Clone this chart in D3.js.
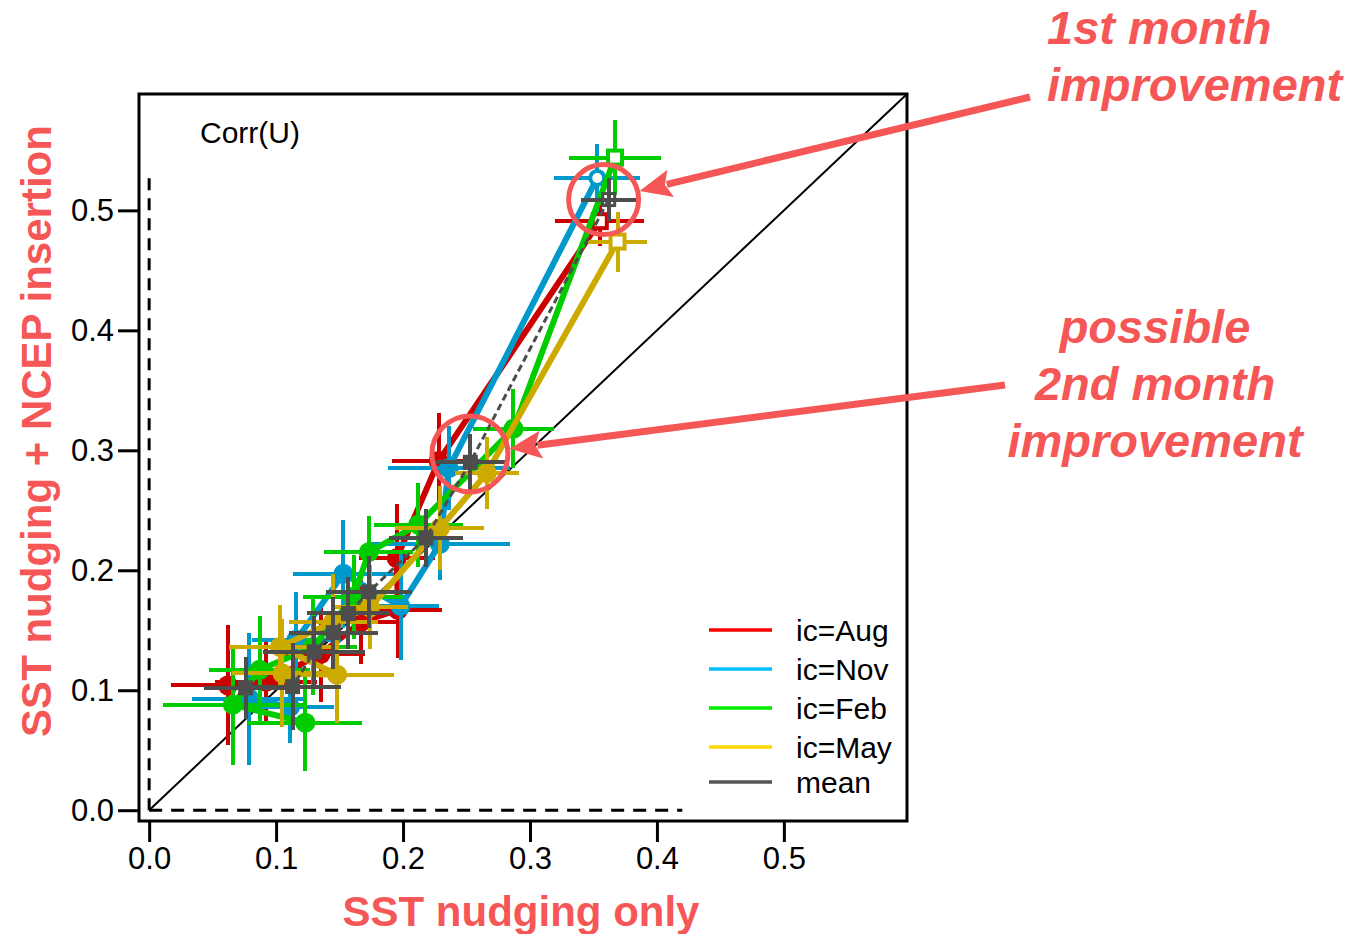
<!DOCTYPE html>
<html>
<head>
<meta charset="utf-8">
<script src="https://cdn.jsdelivr.net/npm/d3@7"></script>
<style>
  body { margin: 0; background: #fff; }
  svg { display: block; }
</style>
</head>
<body>
<svg id="chart" width="1372" height="934"></svg>
<script>
// ---- data: anomaly correlation of U, one point per lead month ----
const seriesNames = ["ic=Aug", "ic=Nov", "ic=Feb", "ic=May", "mean"];

// x: SST nudging only, y: SST nudging + NCEP insertion
const augX    = [0.355, 0.228, 0.195, 0.196, 0.167, 0.135, 0.092, 0.062];
const augY    = [0.491, 0.291, 0.210, 0.167, 0.157, 0.130, 0.107, 0.104];
const augXErr = [0.035, 0.037, 0.030, 0.035, 0.030, 0.035, 0.040, 0.045];
const augYErr = [0.021, 0.040, 0.045, 0.040, 0.035, 0.040, 0.035, 0.050];

const novX    = [0.353, 0.236, 0.229, 0.198, 0.153, 0.116, 0.111, 0.079];
const novY    = [0.527, 0.285, 0.222, 0.170, 0.197, 0.142, 0.086, 0.093];
const novXErr = [0.034, 0.048, 0.055, 0.030, 0.040, 0.035, 0.035, 0.045];
const novYErr = [0.028, 0.035, 0.030, 0.045, 0.045, 0.040, 0.030, 0.055];

const febX    = [0.367, 0.287, 0.212, 0.173, 0.161, 0.129, 0.087, 0.066, 0.123];
const febY    = [0.544, 0.318, 0.238, 0.215, 0.178, 0.136, 0.117, 0.088, 0.073];
const febXErr = [0.036, 0.032, 0.035, 0.035, 0.040, 0.035, 0.040, 0.055, 0.045];
const febYErr = [0.031, 0.033, 0.035, 0.030, 0.035, 0.040, 0.045, 0.050, 0.040];

const mayX    = [0.369, 0.266, 0.229, 0.174, 0.145, 0.103, 0.148, 0.105];
const mayY    = [0.474, 0.281, 0.235, 0.169, 0.157, 0.136, 0.113, 0.114];
const mayXErr = [0.023, 0.025, 0.035, 0.030, 0.035, 0.040, 0.045, 0.040];
const mayYErr = [0.025, 0.030, 0.035, 0.035, 0.040, 0.035, 0.040, 0.045];

const meanX    = [0.362, 0.253, 0.218, 0.173, 0.157, 0.145, 0.130, 0.113, 0.076];
const meanY    = [0.509, 0.290, 0.227, 0.182, 0.164, 0.148, 0.132, 0.103, 0.102];
const meanXErr = [0.022, 0.028, 0.029, 0.034, 0.033, 0.035, 0.040, 0.038, 0.033];
const meanYErr = [0.018, 0.024, 0.024, 0.030, 0.030, 0.030, 0.030, 0.036, 0.026];

const xTicks = [0.0, 0.1, 0.2, 0.3, 0.4, 0.5];
const yTicks = [0.0, 0.1, 0.2, 0.3, 0.4, 0.5];
const xDomain = [-0.008, 0.597];
const yDomain = [-0.009, 0.597];
const zeroLineXEnd = 0.42;   // extent of the dashed y=0 guide
const zeroLineYEnd = 0.533;  // extent of the dashed x=0 guide

// ---- styles ----
const markColors   = ["#cc0000", "#0099cc", "#00cc00", "#ccaa00", "#4d4d4d"];
const legendColors = ["#ff0000", "#00bfff", "#00ee00", "#ffd700", "#555555"];
const accent = "#f55656";
const tickFont = "'Liberation Sans', Arial, sans-serif";

const series = [
  { x: augX,  y: augY,  xe: augXErr,  ye: augYErr },
  { x: novX,  y: novY,  xe: novXErr,  ye: novYErr },
  { x: febX,  y: febY,  xe: febXErr,  ye: febYErr },
  { x: mayX,  y: mayY,  xe: mayXErr,  ye: mayYErr },
  { x: meanX, y: meanY, xe: meanXErr, ye: meanYErr }
].map((s, i) => ({
  name: seriesNames[i],
  color: markColors[i],
  legendColor: legendColors[i],
  isMean: i === 4,
  points: s.x.map((v, k) => ({ x: v, y: s.y[k], xe: s.xe[k], ye: s.ye[k], lead: k + 1 }))
}));

// ---- layout ----
const frame = { left: 139, right: 907, top: 94, bottom: 821 };
const x = d3.scaleLinear().domain(xDomain).range([frame.left, frame.right]);
const y = d3.scaleLinear().domain(yDomain).range([frame.bottom, frame.top]);

const svg = d3.select("#chart");

// axes
const fmt = d3.format(".1f");
const yAxis = svg.append("g")
  .attr("transform", `translate(${frame.left},0)`)
  .call(d3.axisLeft(y).tickValues(yTicks).tickSize(21).tickPadding(4).tickFormat(fmt));
const xAxis = svg.append("g")
  .attr("transform", `translate(0,${frame.bottom})`)
  .call(d3.axisBottom(x).tickValues(xTicks).tickSize(21).tickPadding(5).tickFormat(fmt));
[xAxis, yAxis].forEach(g => {
  g.select(".domain").remove();
  g.selectAll(".tick line").attr("stroke", "#000").attr("stroke-width", 3);
  g.selectAll(".tick text").attr("fill", "#000")
    .style("font-family", tickFont).style("font-size", "31px");
});

// frame
svg.append("rect")
  .attr("x", frame.left).attr("y", frame.top)
  .attr("width", frame.right - frame.left).attr("height", frame.bottom - frame.top)
  .attr("fill", "none").attr("stroke", "#000").attr("stroke-width", 3);

// title inside the frame
svg.append("text")
  .attr("x", 200).attr("y", 143)
  .style("font-family", tickFont).style("font-size", "30px")
  .text("Corr(U)");

const plot = svg.append("g");

// dashed zero guides
plot.append("line")
  .attr("x1", x(0)).attr("y1", y(0)).attr("x2", x(zeroLineXEnd)).attr("y2", y(0))
  .attr("stroke", "#000").attr("stroke-width", 3).attr("stroke-dasharray", "13,9");
plot.append("line")
  .attr("x1", x(0)).attr("y1", y(0)).attr("x2", x(0)).attr("y2", y(zeroLineYEnd))
  .attr("stroke", "#000").attr("stroke-width", 3).attr("stroke-dasharray", "12,8");

// 1:1 diagonal
plot.append("line")
  .attr("x1", x(0)).attr("y1", y(0)).attr("x2", x(xDomain[1])).attr("y2", y(yDomain[1]))
  .attr("stroke", "#000").attr("stroke-width", 2);

const lineGen = d3.line().x(d => x(d.x)).y(d => y(d.y));

series.forEach(s => {
  const g = plot.append("g").attr("class", "series");

  // connecting line through the lead months
  g.append("path")
    .datum(s.points)
    .attr("d", lineGen)
    .attr("fill", "none")
    .attr("stroke", s.color)
    .attr("stroke-width", s.isMean ? 3 : 6)
    .attr("stroke-dasharray", s.isMean ? "7,4" : null);

  // error bars in x and y
  const bars = g.selectAll("g.err").data(s.points).join("g").attr("class", "err")
    .attr("stroke", s.color).attr("stroke-width", 4)
    .attr("shape-rendering", "crispEdges");
  bars.append("line")
    .attr("x1", d => x(d.x - d.xe)).attr("x2", d => x(d.x + d.xe))
    .attr("y1", d => y(d.y)).attr("y2", d => y(d.y));
  bars.append("line")
    .attr("x1", d => x(d.x)).attr("x2", d => x(d.x))
    .attr("y1", d => y(d.y - d.ye)).attr("y2", d => y(d.y + d.ye));

  // markers: open at lead 1, filled afterwards
  g.selectAll("g.mk").data(s.points).join("g").attr("class", "mk")
    .each(function(d) {
      const m = d3.select(this);
      const cx = x(d.x), cy = y(d.y);
      const open = d.lead === 1;
      if (s.isMean) {
        m.append("rect")
          .attr("x", cx - 6).attr("y", cy - 6).attr("width", 12).attr("height", 12)
          .attr("fill", open ? "none" : s.color)
          .attr("stroke", s.color).attr("stroke-width", 3);
      } else if (s.name === "ic=Nov") {
        m.append("circle").attr("cx", cx).attr("cy", cy).attr("r", open ? 7 : 10)
          .attr("fill", open ? "#fff" : s.color)
          .attr("stroke", s.color).attr("stroke-width", open ? 4 : 0);
      } else {
        if (open) {
          m.append("rect")
            .attr("x", cx - 7).attr("y", cy - 7).attr("width", 14).attr("height", 14)
            .attr("fill", "#fff").attr("stroke", s.color).attr("stroke-width", 4);
        } else {
          m.append("circle").attr("cx", cx).attr("cy", cy).attr("r", 10).attr("fill", s.color);
        }
      }
    });
});

// legend
const legend = svg.append("g");
const legendTop = 630, legendStep = [0, 39, 78, 117, 152];
seriesNames.forEach((name, i) => {
  const ly = legendTop + legendStep[i];
  legend.append("line")
    .attr("x1", 709).attr("x2", 772).attr("y1", ly).attr("y2", ly)
    .attr("stroke", legendColors[i]).attr("stroke-width", 3.5);
  legend.append("text")
    .attr("x", 796).attr("y", ly + 11)
    .style("font-family", tickFont).style("font-size", "30px")
    .text(name);
});

// axis titles
const boldFont = "'Liberation Sans', Arial, Helvetica, sans-serif";
svg.append("text")
  .attr("x", 521).attr("y", 926)
  .attr("text-anchor", "middle")
  .attr("fill", accent)
  .style("font-family", boldFont).style("font-weight", "bold").style("font-size", "42px")
  .text("SST nudging only");
svg.append("text")
  .attr("transform", "translate(51,431) rotate(-90)")
  .attr("text-anchor", "middle")
  .attr("fill", accent)
  .style("font-family", boldFont).style("font-weight", "bold").style("font-size", "42px")
  .text("SST nudging + NCEP insertion");

// highlighted regions and their callouts
const callouts = [
  { cx: 0.358, cy: 0.509, r: 35, from: [1030, 97],
    lines: ["1st month", "improvement"], tx: 1047, anchor: "start", ty: [44, 101] },
  { cx: 0.2527, cy: 0.297, r: 38, from: [1005, 385],
    lines: ["possible", "2nd month", "improvement"], tx: 1155, anchor: "middle", ty: [343, 400, 457] }
];
const ann = svg.append("g");
callouts.forEach(c => {
  const px = x(c.cx), py = y(c.cy);
  ann.append("circle").attr("cx", px).attr("cy", py).attr("r", c.r)
    .attr("fill", "none").attr("stroke", accent).attr("stroke-width", 5);
  // arrow ends at the circle rim
  const dx = px - c.from[0], dy = py - c.from[1];
  const len = Math.hypot(dx, dy);
  const ux = dx / len, uy = dy / len;
  const tip = [px - ux * (c.r + 2), py - uy * (c.r + 2)];
  const headLen = 32, headHalf = 14;
  const base = [tip[0] - ux * headLen, tip[1] - uy * headLen];
  ann.append("line")
    .attr("x1", c.from[0]).attr("y1", c.from[1]).attr("x2", base[0] + ux * 4).attr("y2", base[1] + uy * 4)
    .attr("stroke", accent).attr("stroke-width", 7);
  ann.append("path")
    .attr("d", `M${tip[0]},${tip[1]}L${base[0] - uy * headHalf},${base[1] + ux * headHalf}` +
               `L${base[0] + ux * 6},${base[1] + uy * 6}L${base[0] + uy * headHalf},${base[1] - ux * headHalf}Z`)
    .attr("fill", accent);
  c.lines.forEach((t, k) => {
    ann.append("text")
      .attr("x", c.tx).attr("y", c.ty[k])
      .attr("text-anchor", c.anchor)
      .attr("fill", accent)
      .style("font-family", boldFont).style("font-weight", "bold")
      .style("font-style", "italic").style("font-size", "47px")
      .text(t);
  });
});
</script>
</body>
</html>
